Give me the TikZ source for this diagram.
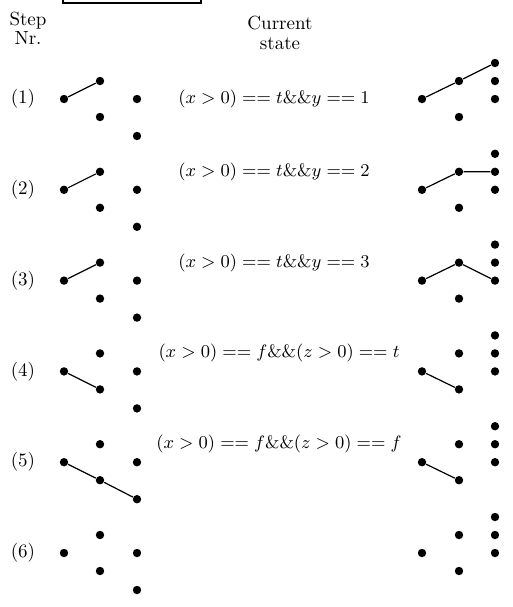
\documentclass[tikz,border=0pt]{standalone}
\begin{document}
\begin{tikzpicture}[
  x=0.5pt, y=-0.5pt,
  font=\fontsize{9.5}{11.5}\selectfont,
  dot/.style={circle, fill=black, inner sep=0pt, minimum size=4.2pt},
  edge/.style={line width=0.6pt},
  hdr/.style={anchor=base},
  cond/.style={anchor=center},
]
\useasboundingbox (0,0) rectangle (513,607);

% Header (box cut off at top, column titles)
\draw[line width=0.6pt] (63,0) -- (63,3) -- (201,3) -- (201,0);
\node[hdr] (hstep) at (28,25) {Step};
\node[hdr] (hnr) at (28,44) {Nr.};
\node[hdr] (hcur) at (280,29) {Current};
\node[hdr] (hstate) at (280,49) {state};

% Dots of the graph before (l) and after (r) each step
\foreach \i in {1,...,6} {
  \pgfmathsetmacro\yc{99+90.8*(\i-1)}
  \node (n\i) at (23,\yc) {(\i)};
  \node[dot] (l\i-a) at (64,\yc) {};
  \node[dot] (l\i-b) at (100,\yc-18) {};
  \node[dot] (l\i-c) at (100,\yc+18) {};
  \node[dot] (l\i-d) at (137,\yc) {};
  \node[dot] (l\i-e) at (137,\yc+37) {};
  \node[dot] (r\i-a) at (422,\yc) {};
  \node[dot] (r\i-b) at (459,\yc-18) {};
  \node[dot] (r\i-c) at (459,\yc+18) {};
  \node[dot] (r\i-d) at (495,\yc-36) {};
  \node[dot] (r\i-e) at (495,\yc-18) {};
  \node[dot] (r\i-f) at (495,\yc) {};
}

% Conditions
\node[cond] (c1) at (274,99) {$(x>0) == t\&\&y == 1$};
\node[cond] (c2) at (274,172) {$(x>0) == t\&\&y == 2$};
\node[cond] (c3) at (274,263) {$(x>0) == t\&\&y == 3$};
\node[cond] (c4) at (279,353) {$(x>0) == f\&\&(z>0) == t$};
\node[cond] (c5) at (279,444) {$(x>0) == f\&\&(z>0) == f$};

% Edges
\draw[edge] (l1-a) -- (l1-b);
\draw[edge] (r1-a) -- (r1-b) -- (r1-d);
\draw[edge] (l2-a) -- (l2-b);
\draw[edge] (r2-a) -- (r2-b) -- (r2-e);
\draw[edge] (l3-a) -- (l3-b);
\draw[edge] (r3-a) -- (r3-b) -- (r3-f);
\draw[edge] (l4-a) -- (l4-c);
\draw[edge] (r4-a) -- (r4-c);
\draw[edge] (l5-a) -- (l5-c) -- (l5-e);
\draw[edge] (r5-a) -- (r5-c);

\end{tikzpicture}
\end{document}
